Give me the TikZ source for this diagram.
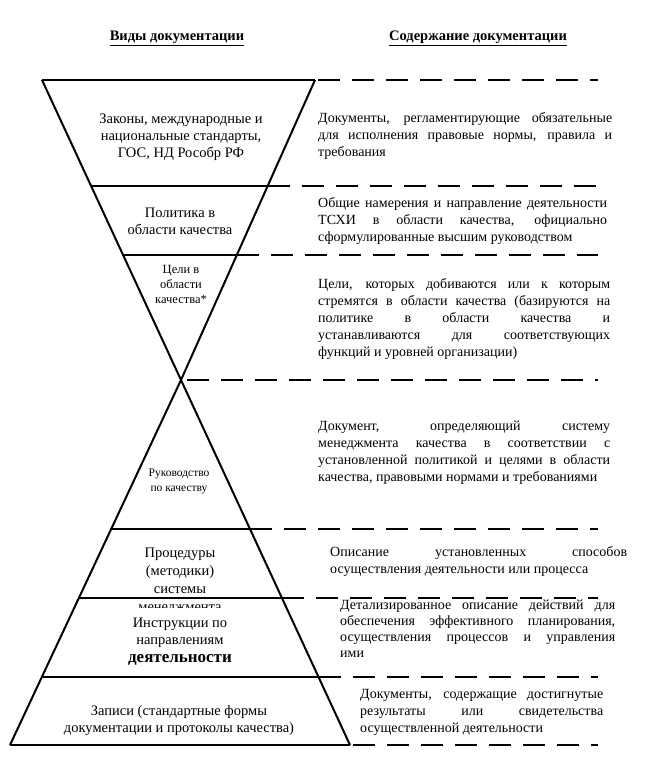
\documentclass[tikz,border=0pt]{standalone}
\usepackage{fontspec}
\setmainfont{Liberation Serif}
\usetikzlibrary{calc}

\tikzset{
  edge/.style={line width=2pt},
  level/.style={line width=2.8pt},
  guide/.style={line width=2.8pt, dash pattern=on 22pt off 12pt},
  head/.style={anchor=base, font=\bfseries\fontsize{14.5}{16}\selectfont},
  kind/.style={align=center, inner sep=0pt, font=\fontsize{14.5}{17}\selectfont},
  smallkind/.style={kind, font=\fontsize{12.5}{15}\selectfont},
  note/.style={align=justify, anchor=base west, inner sep=0pt,
    font=\fontsize{14}{17}\selectfont},
}

\begin{document}
\begin{tikzpicture}[x=1pt,y=-1pt]
  \useasboundingbox (0,0) rectangle (659,781);

  % headers
  \node[head] (kinds) at (177,41) {\underline{Виды документации}};
  \node[head] (content) at (478,41) {\underline{Содержание документации}};

  % left column
  \node[kind] (laws) at (181,137) {Законы, международные и\\национальные стандарты,\\ГОС, НД Рособр РФ};
  \node[kind] (policy) at (180,221) {Политика в\\области качества};
  \node[smallkind] (aims) at (181,284) {Цели в\\области\\качества*};
  \node[smallkind, font=\fontsize{11.5}{15}\selectfont] (manual) at (179,481) {Руководство\\по качеству};
  \node[kind, text width=180pt, anchor=base, font=\fontsize{14.5}{18.3}\selectfont] (proc) at (180,557) {Процедуры\\(методики)\\системы\\менеджмента};
  \node[kind, fill=white, anchor=north, minimum width=190pt, inner ysep=9.5pt] (instr) at (180,608)
    {Инструкции по\\направлениям\\[1pt]{\bfseries\fontsize{17}{20}\selectfont деятельности}};
  \node[kind] (records) at (179,721) {Записи (стандартные формы\\документации и протоколы качества)};

  % right column
  \node[note, text width=294pt] (lawsText) at (318,123) {Документы, регламентирующие обязательные\linebreak для исполнения правовые нормы, правила и\linebreak требования};
  \node[note, text width=289pt] (policyText) at (318,207) {Общие намерения и направление деятельности\linebreak ТСХИ в области качества, официально\linebreak сформулированные высшим руководством};
  \node[note, text width=292pt] (aimsText) at (318,288) {Цели, которых добиваются или к которым\linebreak стремятся в области качества (базируются на\linebreak политике в области качества и\linebreak устанавливаются для соответствующих\linebreak функций и уровней организации)};
  \node[note, text width=292pt] (manualText) at (318,430) {Документ, определяющий систему\linebreak менеджмента качества в соответствии с\linebreak установленной политикой и целями в области\linebreak качества, правовыми нормами и требованиями};
  \node[note, text width=297pt] (procText) at (330,556) {Описание установленных способов\linebreak осуществления деятельности или процесса};
  \node[note, text width=275pt, font=\fontsize{14}{16}\selectfont] (instrText) at (340,609) {Детализированное описание действий для\linebreak обеспечения эффективного планирования,\linebreak осуществления процессов и управления\linebreak ими};
  \node[note, text width=243pt] (recordsText) at (360,698) {Документы, содержащие достигнутые\linebreak результаты или свидетельства\linebreak осуществленной деятельности};

  % hourglass
  \coordinate (topL) at (42,80);
  \coordinate (topR) at (315,80);
  \coordinate (waist) at (181,380);
  \coordinate (botL) at (10,745);
  \coordinate (botR) at (350,745);
  \coordinate (dashEnd) at (598,0);

  \draw[edge] (topL) -- (waist) -- (botR);
  \draw[edge] (topR) -- (waist) -- (botL);
  \draw[level] (topL) -- (topR);
  \draw[level] (botL) -- (botR);
  \draw[guide] ($(topR)+(3,0)$) -- (dashEnd |- topR);
  \draw[guide] ($(waist)+(6,0)$) -- (dashEnd |- waist);
  \draw[guide] ($(botR)+(3,0)$) -- (dashEnd |- botR);
  \foreach \f [count=\i] in {0.3533,0.5833} {
    \draw[level] ($(topL)!\f!(waist)$) -- ($(topR)!\f!(waist)$) coordinate (upR\i);
    \draw[guide] (upR\i) -- (dashEnd |- upR\i);
  }
  \foreach \f [count=\i] in {0.408,0.597,0.8137} {
    \draw[level] ($(waist)!\f!(botL)$) -- ($(waist)!\f!(botR)$) coordinate (lowR\i);
    \draw[guide] (lowR\i) -- (dashEnd |- lowR\i);
  }
\end{tikzpicture}
\end{document}
